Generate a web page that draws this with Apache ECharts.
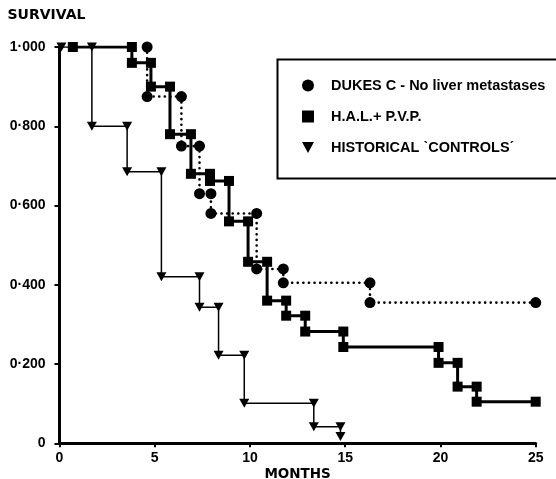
<!DOCTYPE html>
<html><head><meta charset="utf-8">
<script src="https://cdn.jsdelivr.net/npm/echarts@6/dist/echarts.min.js"></script>
<style>html,body{margin:0;padding:0;background:#fff}#c{width:556px;height:479px}</style>
</head><body><div id="c"></div>
<script>
// Data: [month, survival]
const dukesC = [[4.6,1.0],[4.6,0.875],[6.4,0.875],[6.4,0.75],[7.35,0.75],[7.35,0.63],[7.95,0.63],[7.95,0.58],[10.35,0.58],[10.35,0.44],[11.75,0.44],[11.75,0.405],[16.3,0.405],[16.3,0.355],[25,0.355]];
const halPvp = [[0.7,1.0],[3.8,1.0],[3.8,0.96],[4.8,0.96],[4.8,0.90],[5.8,0.90],[5.8,0.78],[6.9,0.78],[6.9,0.68],[7.9,0.68],[7.9,0.662],[8.9,0.662],[8.9,0.56],[9.9,0.56],[9.9,0.458],[10.9,0.458],[10.9,0.36],[11.9,0.36],[11.9,0.322],[12.9,0.322],[12.9,0.282],[14.9,0.282],[14.9,0.243],[19.9,0.243],[19.9,0.203],[20.9,0.203],[20.9,0.143],[21.9,0.143],[21.9,0.105],[25,0.105]];
const controls = [[0.1,1.0],[1.7,1.0],[1.7,0.80],[3.55,0.80],[3.55,0.685],[5.35,0.685],[5.35,0.42],[7.35,0.42],[7.35,0.343],[8.35,0.343],[8.35,0.222],[9.7,0.222],[9.7,0.101],[13.35,0.101],[13.35,0.042],[14.75,0.042],[14.75,0.017]];
const seriesNames = ['DUKES C - No liver metastases','H.A.L.+ P.V.P.',"HISTORICAL \u02CBCONTROLS\u02CA"];
const yTickLabels = ['0','0\u00B7200','0\u00B7400','0\u00B7600','0\u00B7800','1\u00B7000'];
const xTickLabels = ['0','5','10','15','20','25'];

const FONT = 'Liberation Sans';
const WIDE = 'DejaVu Sans';
const tri = 'path://M0,0L10,0L5,9Z';
const chart = echarts.init(document.getElementById('c'));
chart.setOption({
  animation:false,
  backgroundColor:'#fff',
  grid:{left:59.5,right:20.3,top:47,bottom:35.7,containLabel:false,outerBoundsMode:'none'},
  xAxis:{type:'value',min:0,max:25,interval:5,
    axisLine:{lineStyle:{color:'#000',width:3}},
    axisTick:{show:true,length:4,lineStyle:{color:'#000',width:2}},
    splitLine:{show:false},
    axisLabel:{color:'#000',fontFamily:FONT,fontWeight:'bold',fontSize:14,margin:8,
      formatter:v=>xTickLabels[Math.round(v/5)]},
    name:'MONTHS',nameLocation:'middle',nameGap:24,nameMoveOverlap:false,
    nameTextStyle:{color:'#000',fontFamily:WIDE,fontWeight:'bold',fontSize:13.5}
  },
  yAxis:{type:'value',min:0,max:1,interval:0.2,
    axisLine:{show:true,lineStyle:{color:'#000',width:3}},
    axisTick:{show:true,length:5,lineStyle:{color:'#000',width:2}},
    splitLine:{show:false},
    axisLabel:{color:'#000',fontFamily:FONT,fontWeight:'bold',fontSize:14,margin:14,
      formatter:v=>yTickLabels[Math.round(v/0.2)]},
    name:'SURVIVAL',nameLocation:'end',nameGap:25,nameMoveOverlap:false,
    nameTextStyle:{color:'#000',fontFamily:WIDE,fontWeight:'bold',fontSize:14,align:'left',padding:[0,0,0,-52]}
  },
  legend:{orient:'vertical',left:297,top:73,itemWidth:12,itemHeight:12,itemGap:16,
    textStyle:{color:'#000',fontFamily:FONT,fontWeight:'bold',fontSize:14.5,padding:[0,0,0,12]},
    data:[{name:seriesNames[0],icon:'circle'},{name:seriesNames[1],icon:'rect'},{name:seriesNames[2],icon:tri}]
  },
  graphic:[{type:'rect',left:275,top:57,shape:{width:300,height:119},
    style:{fill:'none',stroke:'#000',lineWidth:2},z:-1}],
  series:[
    {name:seriesNames[2],type:'line',data:controls,symbol:tri,symbolSize:[10,9],
      itemStyle:{color:'#000'},lineStyle:{color:'#000',width:1.5}},
    {name:seriesNames[1],type:'line',data:halPvp,symbol:'rect',symbolSize:10,
      itemStyle:{color:'#000'},lineStyle:{color:'#000',width:3}},
    {name:seriesNames[0],type:'line',data:dukesC,symbol:'circle',symbolSize:11,
      itemStyle:{color:'#000'},lineStyle:{color:'#000',width:2.6,type:[0.1,5.5],cap:'round'}}
  ]
});
</script></body></html>
